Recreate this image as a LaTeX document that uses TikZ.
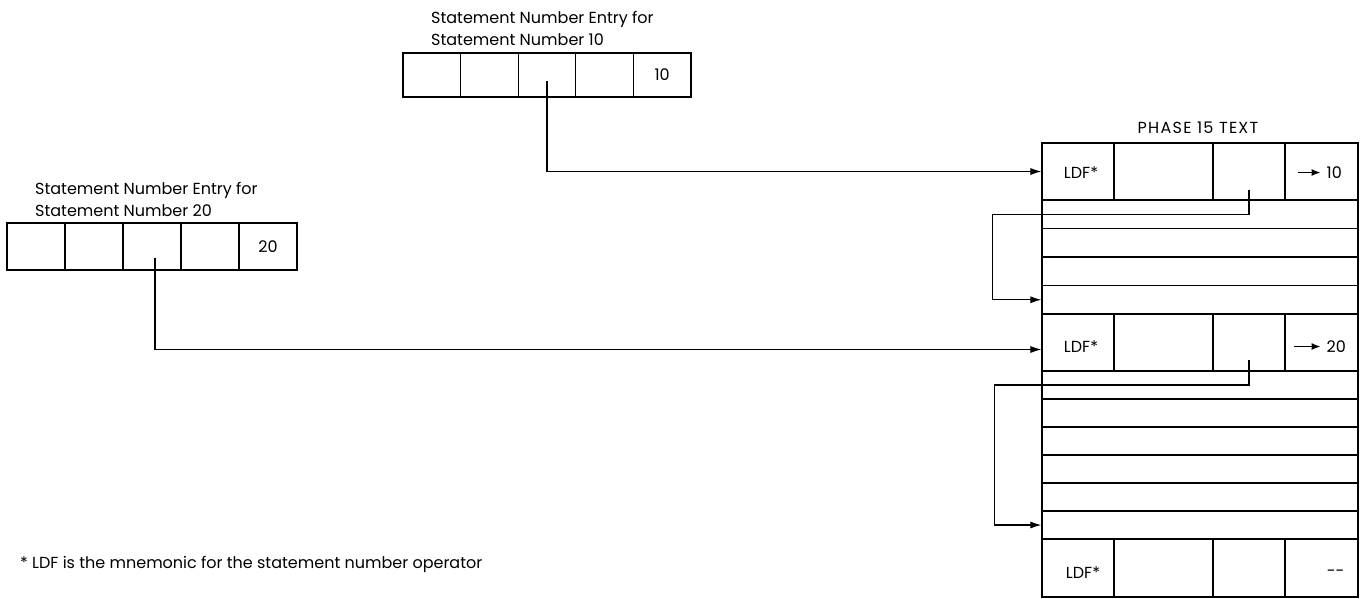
\documentclass[tikz,border=0pt]{standalone}
\usepackage{fontspec}
\setmainfont{Poppins}
\usetikzlibrary{arrows.meta,calc}
\begin{document}
\begin{tikzpicture}[x=1pt,y=-1pt,
  every node/.style={font=\fontsize{16}{22}\selectfont},
  cellbox/.style={draw,line width=1.2pt,inner sep=0pt,minimum width=#1},
  conn/.style={line width=1.1pt,-{Latex[length=11pt,width=7pt]}},
  inarrow/.style={line width=1.3pt,-{Latex[length=9pt,width=7pt]}},
  tag/.style={inner sep=0pt,align=left,anchor=base west}]
\useasboundingbox (0,0) rectangle (1364,598);
% top statement entry (10)
\node[tag] (lab10) at (431,45) {Statement Number Entry for\\Statement Number 10};
\foreach \i/\x in {1/431.8,2/489.4,3/547,4/604.6}
  \node[cellbox=57.6pt,minimum height=44pt] (t\i) at (\x,75) {};
\node[cellbox=57.6pt,minimum height=44pt] (t5) at (662.2,75) {10};
% left statement entry (20)
\node[tag] (lab20) at (35,216) {Statement Number Entry for\\Statement Number 20};
\foreach \i/\x in {1/36,2/94,3/152,4/210}
  \node[cellbox=58pt,minimum height=47pt] (l\i) at (\x,246.5) {};
\node[cellbox=58pt,minimum height=47pt] (l5) at (268,246.5) {20};
% phase 15 text
\node[inner sep=0pt,anchor=base,font=\fontsize{16}{22}\selectfont\addfontfeatures{LetterSpace=8}] (ph) at (1198,133) {PHASE 15 TEXT};
% LDF rows
\foreach \r/\y/\h in {1/171.5/57,2/342.5/57,3/568/58}{
  \node[cellbox=72pt,minimum height=\h pt] (r\r a) at (1078,\y) {};
  \node[cellbox=99pt,minimum height=\h pt] (r\r b) at (1163.5,\y) {};
  \node[cellbox=72pt,minimum height=\h pt] (r\r c) at (1249,\y) {};
  \node[cellbox=73pt,minimum height=\h pt] (r\r d) at (1321.5,\y) {};
}
\node[inner sep=0pt] (ldf1) at ([xshift=3pt,yshift=-1pt]r1a.center) {LDF*};
\node[inner sep=0pt] (ldf2) at ([xshift=3pt,yshift=-4pt]r2a.center) {LDF*};
\node[inner sep=0pt] (ldf3) at ([xshift=5pt,yshift=-5pt]r3a.center) {LDF*};
\node[inner sep=0pt,anchor=west] (n10) at ([xshift=5pt,yshift=-1pt]r1d.center) {10};
\node[inner sep=0pt,anchor=west] (n20) at ([xshift=5pt,yshift=-4pt]r2d.center) {20};
\node[inner sep=0pt,anchor=east] (dd) at ([xshift=-14pt,yshift=-5pt]r3d.east) {-{}-};
\draw[inarrow] ([xshift=-29pt]n10.west) -- ([xshift=-6pt]n10.west);
\draw[inarrow] ([xshift=-33pt]n20.west) -- ([xshift=-6pt]n20.west);
% thin rows
\foreach \i/\y in {1/214.25,2/242.75,3/271.25,4/299.75}
  \node[cellbox=316pt,minimum height=28.5pt] (s1\i) at (1200,\y) {};
\foreach \i/\y in {1/385,2/413,3/441,4/469,5/497,6/525}
  \node[cellbox=316pt,minimum height=28pt] (s2\i) at (1200,\y) {};
% connectors
\draw[conn] ([yshift=-6pt]t3.center) |- (r1a.west);
\draw[conn] ([xshift=3pt,yshift=-11pt]l3.center) |- ([yshift=-7pt]r2a.west);
\draw[conn] ([yshift=-18pt]r1c.center) |- ([xshift=-49pt]s11.west) |- (s14.west);
\draw[conn] ([yshift=-17pt]r2c.center) |- ([xshift=-47pt]s21.west) |- (s26.west);
% footnote
\node[inner sep=0pt,anchor=base west] (fn) at (20,568) {* LDF is the mnemonic for the statement number operator};
\end{tikzpicture}
\end{document}
